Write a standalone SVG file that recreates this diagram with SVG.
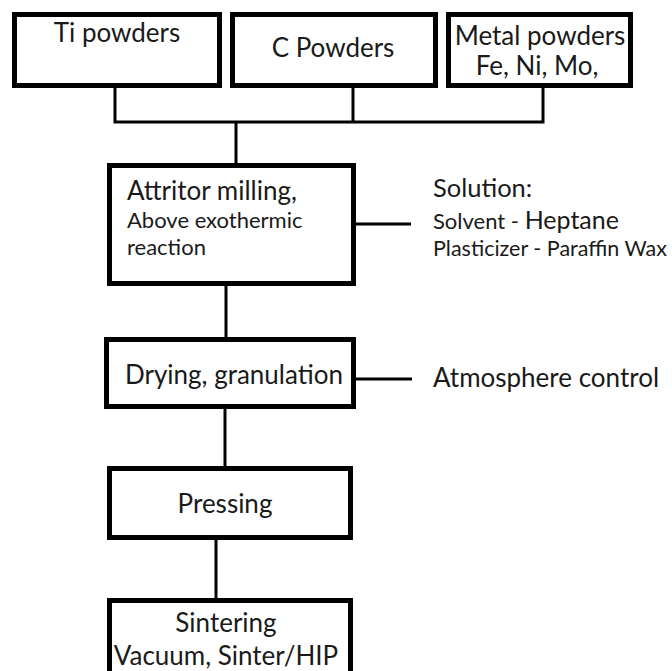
<svg xmlns="http://www.w3.org/2000/svg" width="672" height="671" viewBox="0 0 672 671">
<style>
.box{fill:#fff;stroke:#000;stroke-width:5}
.t{font-family:Lato,"Open Sans",sans-serif;fill:#1a1a1a;font-size:26px}
.m{text-anchor:middle}
.s{font-size:22px}
.c{fill:none;stroke:#000;stroke-width:3}
</style>
<rect width="672" height="671" fill="#fff"/>
<g id="connectors">
<path class="c" d="M115 87V122M353 87V122M543 87V122M113.5 122H544.5M236 122V163M355 224H411M226 286V337M356 379H412M225 409V466M216 540V598"/>
</g>
<g id="ti">
<rect class="box" x="14.5" y="14.5" width="205" height="71"/>
<text class="t m" x="117" y="42">Ti powders</text>
</g>
<g id="c">
<rect class="box" x="232.5" y="14.5" width="203" height="71"/>
<text class="t m" x="333" y="57">C Powders</text>
</g>
<g id="metal">
<rect class="box" x="448.5" y="14.5" width="182" height="71"/>
<text class="t m" x="540" y="45">Metal powders</text>
<text class="t m" x="537" y="75">Fe, Ni, Mo,</text>
</g>
<g id="attritor">
<rect class="box" x="109.5" y="165.5" width="244" height="118"/>
<text class="t" x="127" y="200">Attritor milling,</text>
<text class="t s" x="127" y="228">Above exothermic</text>
<text class="t s" x="127" y="255">reaction</text>
</g>
<g id="solution">
<text class="t" x="433" y="197" style="font-size:25.5px">Solution:</text>
<text class="t" x="433" y="229"><tspan style="font-size:22px">Solvent - </tspan><tspan style="font-size:25px">Heptane</tspan></text>
<text class="t" x="433" y="256" style="font-size:21.5px">Plasticizer - Paraffin Wax</text>
</g>
<g id="drying">
<rect class="box" x="106.5" y="339.5" width="247" height="67"/>
<text class="t m" x="234" y="384">Drying, granulation</text>
</g>
<g id="atmosphere">
<text class="t" x="433" y="387">Atmosphere control</text>
</g>
<g id="pressing">
<rect class="box" x="109.5" y="468.5" width="241" height="69"/>
<text class="t m" x="225" y="513">Pressing</text>
</g>
<g id="sintering">
<rect class="box" x="109.5" y="600.5" width="241" height="80"/>
<text class="t m" x="226" y="632">Sintering</text>
<text class="t m" x="226" y="665">Vacuum, Sinter/HIP</text>
</g>
</svg>
